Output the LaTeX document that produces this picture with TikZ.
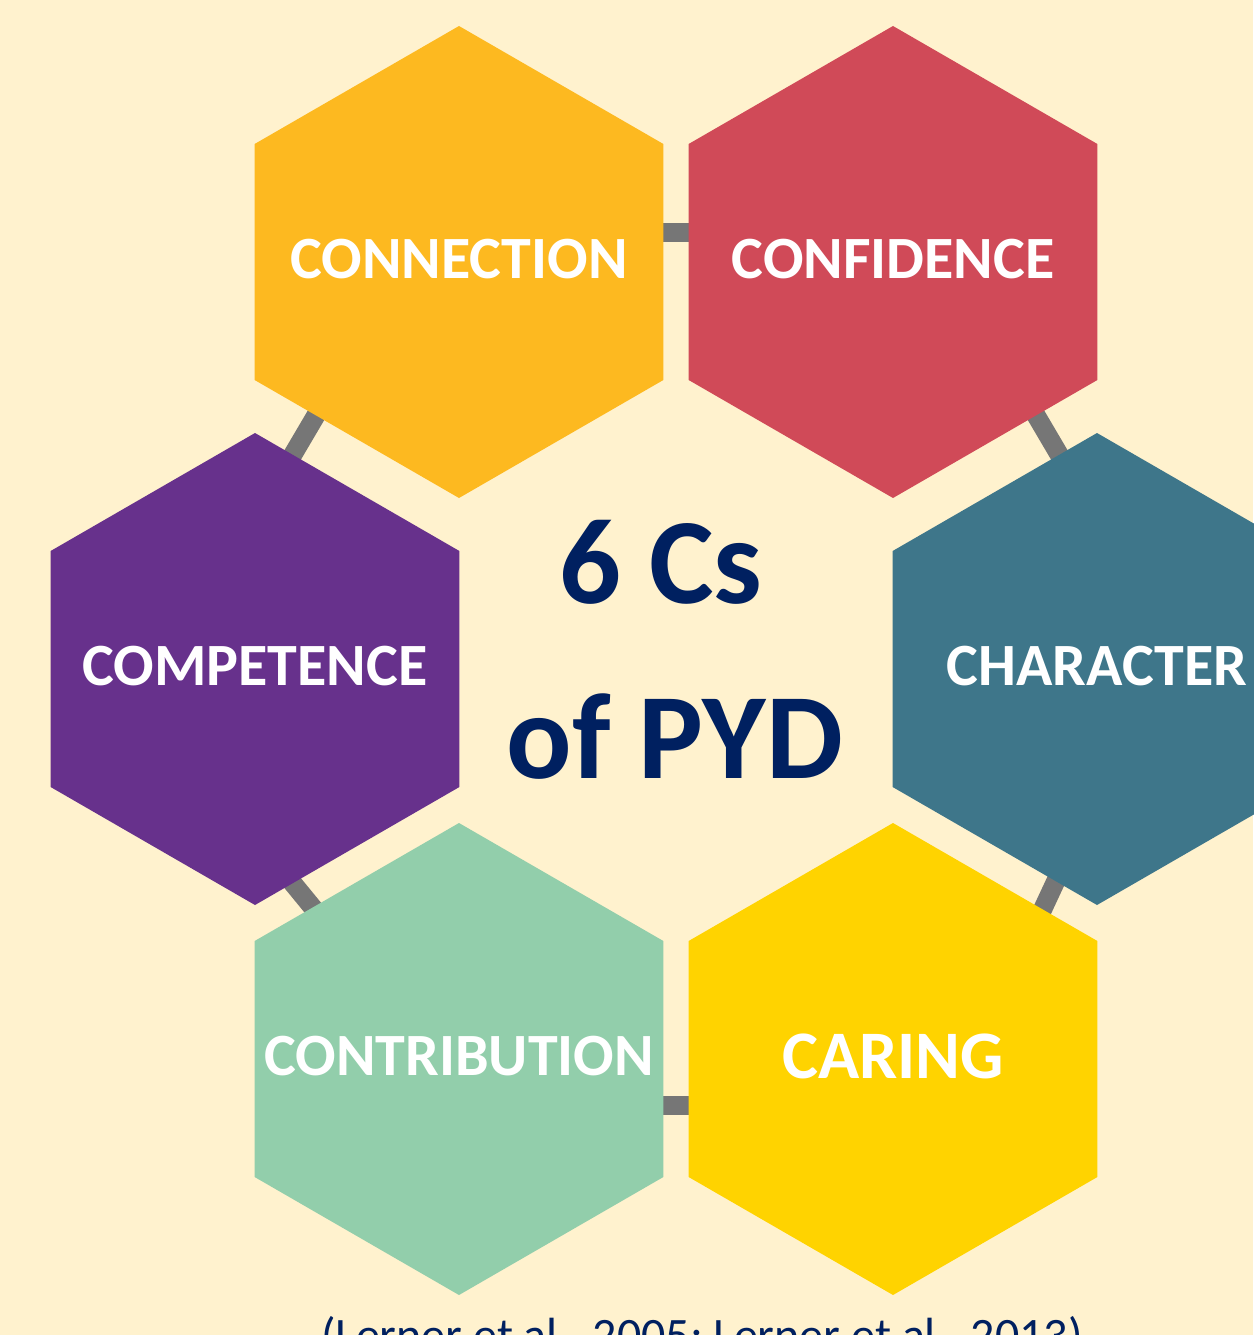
\documentclass[tikz,border=0pt]{standalone}
\usepackage{fontspec}
\setmainfont{Carlito}
\usetikzlibrary{shapes.geometric,backgrounds}

\definecolor{cream}{HTML}{FFF2CE}
\definecolor{navy}{HTML}{002060}
\definecolor{linkgray}{HTML}{767676}
\definecolor{hexorange}{HTML}{FDB920}
\definecolor{hexred}{HTML}{D04A58}
\definecolor{hexpurple}{HTML}{67318C}
\definecolor{hexteal}{HTML}{3E768A}
\definecolor{hexmint}{HTML}{92CEAB}
\definecolor{hexyellow}{HTML}{FFD300}

\begin{document}
\begin{tikzpicture}[x=1pt,y=-1pt,
  hex/.style={regular polygon, regular polygon sides=6, shape border rotate=30,
    minimum size=472pt, inner sep=0pt, outer sep=0pt},
  hextext/.style={text=white, inner sep=0pt, yshift=3pt, font=\fontsize{60}{72}\selectfont\bfseries},
  link/.style={draw=linkgray, line width=19pt, shorten <=-8pt, shorten >=-8pt}]

\useasboundingbox (0,0) rectangle (1253,1335);

% Hexagons
\node[hex, fill=hexorange, label={[hextext]center:CONNECTION}] (connection) at (459,262) {};
\node[hex, fill=hexred, label={[hextext]center:CONFIDENCE}] (confidence) at (893,262) {};
\node[hex, fill=hexpurple, label={[hextext]center:COMPETENCE}] (competence) at (255,669) {};
\node[hex, fill=hexteal, label={[hextext]center:CHARACTER}] (character) at (1097,669) {};
\node[hex, fill=hexmint, label={[hextext]center:CONTRIBUTION}] (contribution) at (459,1059) {};
\node[hex, fill=hexyellow, label={[hextext, font=\fontsize{68}{80}\selectfont\bfseries]center:CARING}] (caring) at (893,1059) {};

% Title and source
\node[text=navy, align=center, font=\fontsize{122}{175}\selectfont\bfseries] (title) at (675,650) {6 Cs\kern.23em\\of PYD};
\node[text=navy, anchor=base, font=\fontsize{48}{58}\selectfont] (source) at (702,1351) {(Lerner et al., 2005; Lerner et al., 2013)};

% Background and links
\begin{pgfonlayer}{background}
\fill[cream] (0,0) rectangle (1253,1335);
\draw[link] ([yshift=30pt]connection.east) -- ([yshift=30pt]confidence.west);
\draw[link] (connection.227) -- (competence.80);
\draw[link] (confidence.313) -- (character.100);
\draw[link] (competence.280.6) -- (contribution.134.8);
\draw[link] (character.259.4) -- (caring.45.2);
\draw[link] ([yshift=-46pt]contribution.east) -- ([yshift=-46pt]caring.west);
\end{pgfonlayer}

\end{tikzpicture}
\end{document}
